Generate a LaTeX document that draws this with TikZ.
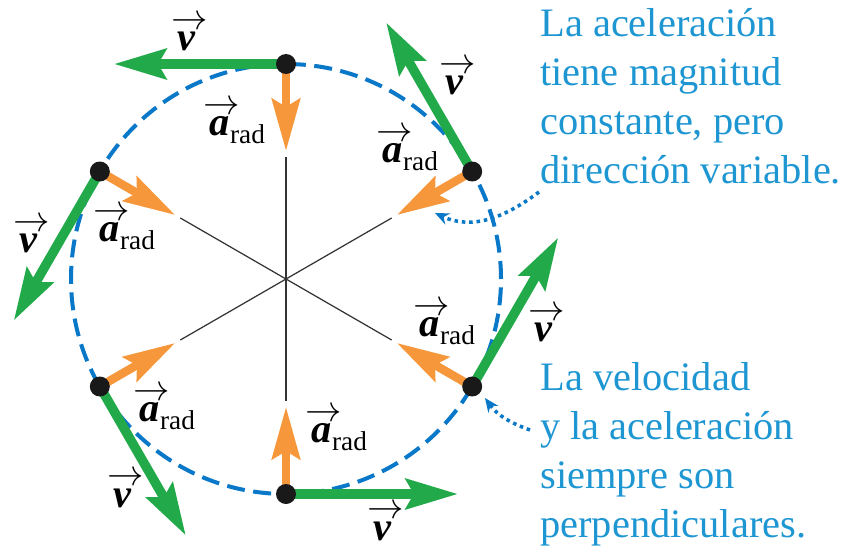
\documentclass[tikz,border=0pt]{standalone}
\usepackage{amsmath}
\usepackage{fontspec}
\setmainfont{Liberation Serif}
\usepackage{tikz}
\usetikzlibrary{arrows.meta,calc}
\definecolor{velgreen}{HTML}{22AA4A}
\definecolor{accorange}{HTML}{F7973C}
\definecolor{pathblue}{HTML}{0A78C8}
\definecolor{notecyan}{HTML}{1E96D2}
\newcommand{\arrowed}[1]{\setbox0\hbox{#1}%
  \rlap{\makebox[\wd0][c]{\kern0.14em\raisebox{0.52em}{\fontsize{20}{20}\selectfont$\rightarrow$}}}%
  \box0}
\newcommand{\vecv}{\arrowed{\textbf{\textit{v}}}}
\newcommand{\vecarad}{\arrowed{\textbf{\textit{a}}}\kern0.5pt%
  \raisebox{-0.2em}{\fontsize{15.5}{16}\selectfont rad}}
\tikzset{
  velarrow/.style={-{Stealth[length=1.04cm,width=0.6cm,inset=0.16cm]},
                   line width=0.19cm,velgreen},
  accarrow/.style={-{Stealth[length=1.04cm,width=0.56cm,inset=0.16cm]},
                   line width=0.17cm,accorange},
  spoke/.style={line width=0.7pt,black!80},
  orbit/.style={pathblue,line width=0.08cm,dash pattern=on 0.36cm off 0.17cm},
  dotpt/.style={circle,fill=black!90,inner sep=0pt,minimum size=0.4cm},
  note/.style={notecyan,align=left,inner sep=0pt,anchor=north west,
               font=\fontsize{23}{27.9}\selectfont},
  pointer/.style={-{Stealth[length=0.28cm,width=0.24cm]},pathblue,
                  line width=2pt,dash pattern=on 2pt off 2.2pt},
  veclabel/.style={font=\fontsize{23}{25}\selectfont,inner sep=0pt},
}

\begin{document}
\begin{tikzpicture}[x=0.02cm,y=0.02cm]
  \useasboundingbox (0,0) rectangle (848,549);
  \coordinate (O) at (286,270);
  \draw[orbit] (O) circle[radius=215];
  \foreach \n/\ang in {1/90,2/30,3/-30,4/-90,5/-150,6/150}{
    \coordinate (s\n) at ($(O)+(\ang:122)$);
    \coordinate (p\n) at ($(O)+(\ang:215)$);
    \coordinate (vt\n) at ($(p\n)+(\ang+90:172)$);
    \coordinate (at\n) at ($(O)+(\ang:128)$);
    \draw[spoke] (O) -- (s\n);
  }
  \foreach \n in {1,...,6}{
    \draw[velarrow] (p\n) -- (vt\n);
    \draw[accarrow] (p\n) -- (at\n);
  }
  \foreach \n in {1,...,6}
    \node[dotpt] (d\n) at (p\n) {};
  % labels
  \foreach \n/\x/\y in {1/187/515,2/455/471,3/544/224,4/383/26,5/123/59,6/29/313}
    \node[veclabel] (lv\n) at (\x,\y) {\vecv};
  \foreach \n/\x/\y in {1/237/427,2/410/400,3/447/226,4/339/120,5/167/141,6/127/321}
    \node[veclabel] (la\n) at (\x,\y) {\vecarad};
  % notes
  \node[note] (noteacc) at (540,541)
    {La aceleración\\tiene magnitud\\constante, pero\\dirección variable.};
  \node[note] (notevel) at (540,187)
    {La velocidad\\y la aceleración\\siempre son\\perpendiculares.};
  \coordinate (src1) at (539,357);
  \coordinate (ptr1) at (435,336);
  \coordinate (src2) at (530,119);
  \coordinate (ptr2) at (485,151);
  \draw[pointer] (src1) to[out=217,in=-25] (ptr1);
  \draw[pointer] (src2) to[out=160,in=-54] (ptr2);
\end{tikzpicture}
\end{document}
